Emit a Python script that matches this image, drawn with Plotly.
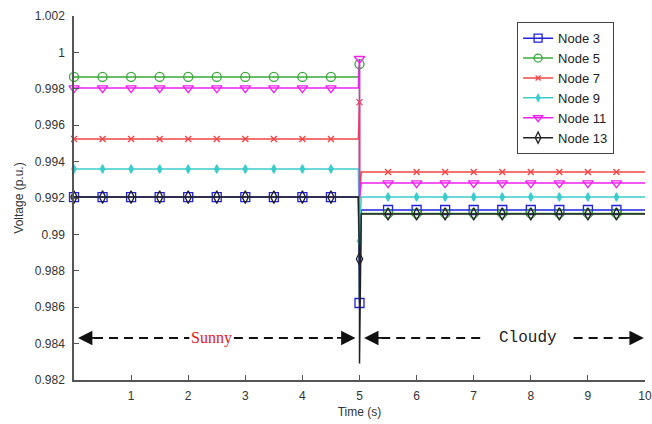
import plotly.graph_objects as go

# ---- data ----
node_names = ["Node 3", "Node 5", "Node 7", "Node 9", "Node 11", "Node 13"]
times_pre = [0, 0.5, 1, 1.5, 2, 2.5, 3, 3.5, 4, 4.5]
times_event = [4.98, 5.0, 5.0, 5.03]
time_marker_event = 5.0
times_post = [5.5, 6, 6.5, 7, 7.5, 8, 8.5, 9, 9.5]
time_end = 10

pre_level = [0.99205, 0.99865, 0.99524, 0.99359, 0.99804, 0.99205]
event_marker = [0.98623, 0.99936, 0.99727, 0.98964, 0.99965, 0.98865]
event_extreme = [0.98620, 0.98640, 0.99190, 0.98964, 0.99200, 0.98290]
post_level = [0.99134, 0.99115, 0.99343, 0.99206, 0.99282, 0.99112]

y_ticks = [0.982, 0.984, 0.986, 0.988, 0.99, 0.992, 0.994, 0.996, 0.998, 1.0, 1.002]
y_tick_labels = ["0.982", "0.984", "0.986", "0.988", "0.99", "0.992", "0.994", "0.996", "0.998", "1", "1.002"]
x_ticks = [1, 2, 3, 4, 5, 6, 7, 8, 9, 10]
x_tick_labels = ["1", "2", "3", "4", "5", "6", "7", "8", "9", "10"]

# ---- styles ----
colors = ["#2020E0", "#3AA83A", "#F04444", "#3CCCCC", "#F020F0", "#222222"]
symbols = ["square-open", "circle-open", "x-thin-open", "diamond-tall", "triangle-down-open", "diamond-tall-open"]
sizes = [9, 9, 6, 6, 9, 9]

fig = go.Figure()
for i, name in enumerate(node_names):
    xs = times_pre + times_event + times_post + [time_end]
    ys = ([pre_level[i]] * len(times_pre)
          + [pre_level[i], event_marker[i], event_extreme[i], post_level[i]]
          + [post_level[i]] * len(times_post) + [post_level[i]])
    fig.add_trace(go.Scatter(x=xs, y=ys, mode="lines",
                             line=dict(color=colors[i], width=1.5),
                             showlegend=False, hoverinfo="skip"))
    mx = times_pre + [time_marker_event] + times_post
    my = [pre_level[i]] * len(times_pre) + [event_marker[i]] + [post_level[i]] * len(times_post)
    fig.add_trace(go.Scatter(x=mx, y=my, mode="markers", cliponaxis=False,
                             marker=dict(symbol=symbols[i], size=sizes[i], color=colors[i],
                                         line=dict(color=colors[i], width=1.3)),
                             showlegend=False))
    fig.add_trace(go.Scatter(x=[None], y=[None], mode="lines+markers", name=name,
                             line=dict(color=colors[i], width=1.5),
                             marker=dict(symbol=symbols[i], size=sizes[i] - 1, color=colors[i],
                                         line=dict(color=colors[i], width=1.3))))

# ---- annotations (Sunny / Cloudy) ----
y_arrow = 0.98431
dash_segments = [(0.35, 2.02), (2.80, 4.62), (5.38, 7.18), (8.75, 9.68)]
shapes = []
for x0, x1 in dash_segments:
    shapes.append(dict(type="line", xref="x", yref="y", x0=x0, x1=x1, y0=y_arrow, y1=y_arrow,
                       line=dict(color="#111111", width=2, dash="9px,6px")))

arrows = [(0.07, 0.42), (4.93, 4.58), (5.08, 5.42), (9.98, 9.62)]
annotations = []
for tip, tail in arrows:
    annotations.append(dict(x=tip, y=y_arrow, ax=tail, ay=y_arrow, xref="x", yref="y",
                            axref="x", ayref="y", text="", showarrow=True,
                            arrowhead=2, arrowsize=1.6, arrowwidth=1.8, arrowcolor="#111111"))
annotations.append(dict(x=2.40, y=y_arrow, xref="x", yref="y", text="Sunny", showarrow=False,
                        font=dict(family="Liberation Serif", size=16, color="#E02020")))
annotations.append(dict(x=7.95, y=y_arrow, xref="x", yref="y", text="Cloudy", showarrow=False,
                        font=dict(family="Liberation Mono", size=16, color="#222222")))

fig.update_layout(
    width=652, height=424,
    margin=dict(l=74, r=7, t=16, b=44, autoexpand=False),
    paper_bgcolor="white", plot_bgcolor="white",
    font=dict(family="Liberation Sans, Arial", size=12, color="#333333"),
    shapes=shapes, annotations=annotations,
    legend=dict(x=0.776, y=0.983, xanchor="left", yanchor="top",
                bgcolor="white", bordercolor="#444444", borderwidth=1,
                font=dict(size=13, color="#222222"), tracegroupgap=0,
                itemwidth=30),
    xaxis=dict(range=[0, 10], tickvals=x_ticks, ticktext=x_tick_labels, automargin=False,
               showgrid=False, zeroline=False, showline=True, linecolor="#555555", linewidth=1.5,
               ticks="inside", ticklen=5, tickcolor="#555555", ticklabelstandoff=4,
               title=dict(text="Time (s)", standoff=5, font=dict(size=12, color="#333333"))),
    yaxis=dict(range=[0.982, 1.002], tickvals=y_ticks, ticktext=y_tick_labels, automargin=False,
               showgrid=False, zeroline=False, showline=True, linecolor="#555555", linewidth=1.5,
               ticks="inside", ticklen=5, tickcolor="#555555", ticklabelstandoff=5,
               title=dict(text="Voltage (p.u.)", standoff=9, font=dict(size=12, color="#333333"))),
)

fig.write_html("out.html")
